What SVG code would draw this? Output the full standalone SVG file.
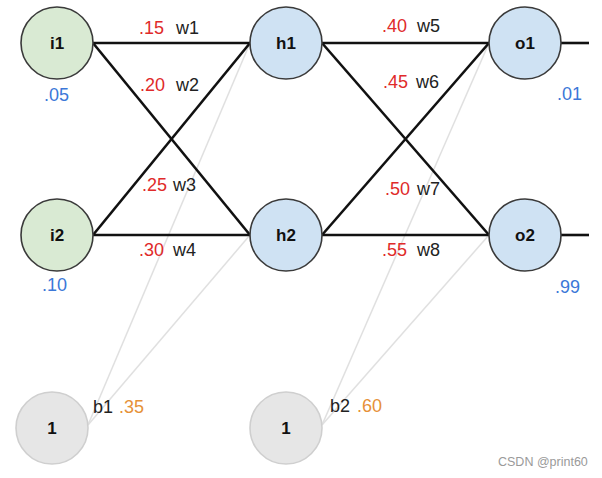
<svg xmlns="http://www.w3.org/2000/svg" width="602" height="478" viewBox="0 0 602 478">
<style>
text{font-family:"Liberation Sans",Arial,sans-serif;font-size:18px}
.n{stroke:#3a3a3a;stroke-width:1.6}
.in{fill:#d9ead3}
.hid{fill:#cfe2f3}
.bias{fill:#e6e6e6;stroke:#cfcfcf;stroke-width:1.6}
.lbl{font-weight:bold;text-anchor:middle;fill:#111;font-size:17px}
.e{stroke:#111;stroke-width:2.6;fill:none}
.b{stroke:#e0e0e0;stroke-width:1.5;fill:none}
.r{fill:#e02a2a}
.k{fill:#222}
.bl{fill:#3c78d8}
.o{fill:#e69138}
</style>
<g id="connectors">
<line class="b" x1="88" y1="425" x2="250" y2="43"/>
<line class="b" x1="88" y1="425" x2="250" y2="235"/>
<line class="b" x1="322" y1="425" x2="489" y2="43"/>
<line class="b" x1="322" y1="425" x2="489" y2="235"/>
<line class="e" x1="93" y1="43" x2="250" y2="43"/>
<line class="e" x1="93" y1="43" x2="250" y2="235"/>
<line class="e" x1="93" y1="235" x2="250" y2="43"/>
<line class="e" x1="93" y1="235" x2="250" y2="235"/>
<line class="e" x1="322" y1="43" x2="489" y2="43"/>
<line class="e" x1="322" y1="43" x2="489" y2="235"/>
<line class="e" x1="322" y1="235" x2="489" y2="43"/>
<line class="e" x1="322" y1="235" x2="489" y2="235"/>
<line class="e" x1="561" y1="43" x2="589" y2="43"/>
<line class="e" x1="561" y1="235" x2="589" y2="235"/>
</g>
<g id="weights">
<text x="139" y="34" class="r">.15</text><text x="176" y="34" class="k">w1</text>
<text x="140" y="91" class="r">.20</text><text x="176" y="91" class="k">w2</text>
<text x="142" y="191" class="r">.25</text><text x="173" y="191" class="k">w3</text>
<text x="139" y="256" class="r">.30</text><text x="173" y="256" class="k">w4</text>
<text x="382" y="32" class="r">.40</text><text x="417" y="32" class="k">w5</text>
<text x="383" y="88" class="r">.45</text><text x="416" y="88" class="k">w6</text>
<text x="385" y="195" class="r">.50</text><text x="417" y="195" class="k">w7</text>
<text x="382" y="256" class="r">.55</text><text x="417" y="256" class="k">w8</text>
</g>
<g id="i1"><circle class="n in" cx="57" cy="43" r="36"/><text class="lbl" x="57" y="49">i1</text><text class="bl" x="44" y="101">.05</text></g>
<g id="i2"><circle class="n in" cx="57" cy="235" r="36"/><text class="lbl" x="57" y="241">i2</text><text class="bl" x="42" y="291">.10</text></g>
<g id="h1"><circle class="n hid" cx="286" cy="43" r="36"/><text class="lbl" x="286" y="49">h1</text></g>
<g id="h2"><circle class="n hid" cx="286" cy="235" r="36"/><text class="lbl" x="286" y="241">h2</text></g>
<g id="o1"><circle class="n hid" cx="525" cy="43" r="36"/><text class="lbl" x="525" y="49">o1</text><text class="bl" x="557" y="100">.01</text></g>
<g id="o2"><circle class="n hid" cx="525" cy="235" r="36"/><text class="lbl" x="525" y="241">o2</text><text class="bl" x="555" y="293">.99</text></g>
<g id="b1"><circle class="bias" cx="52" cy="428" r="36"/><text class="lbl" x="52" y="434">1</text><text class="k" x="93" y="413">b1</text><text class="o" x="119" y="413">.35</text></g>
<g id="b2"><circle class="bias" cx="286" cy="428" r="36"/><text class="lbl" x="286" y="434">1</text><text class="k" x="330" y="412">b2</text><text class="o" x="357" y="412">.60</text></g>
<text x="498" y="466" style="font-size:12.5px;fill:#9a9a9a">CSDN @print60</text>
</svg>
